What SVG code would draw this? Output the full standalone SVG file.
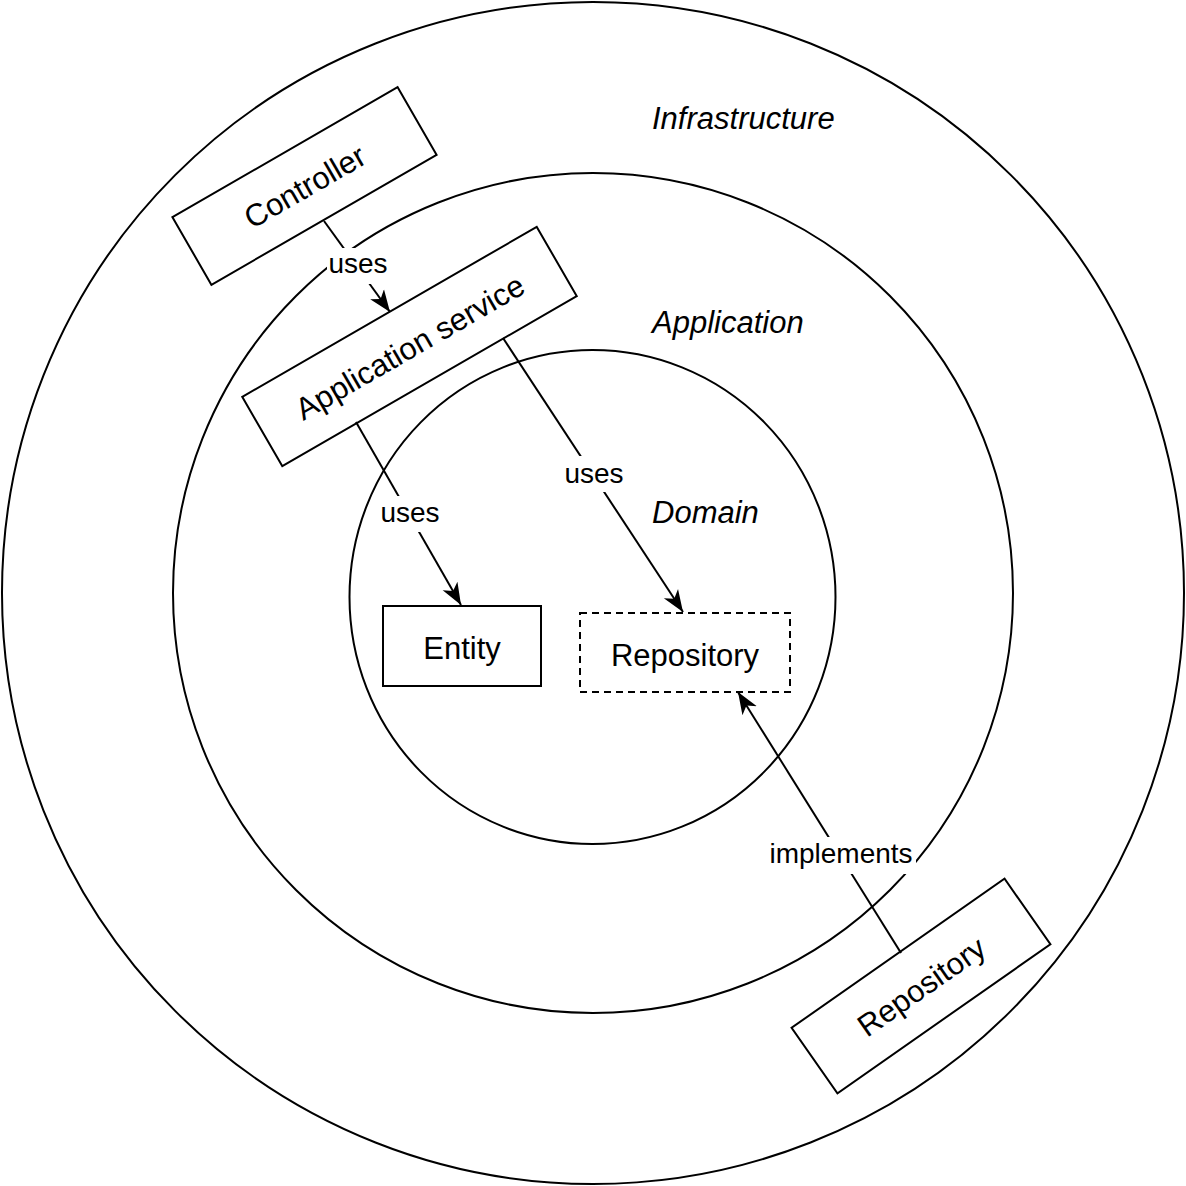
<svg xmlns="http://www.w3.org/2000/svg" width="1186" height="1186" viewBox="0 0 1186 1186">
<style>
.ring{fill:none;stroke:#000;stroke-width:2}
.box{fill:#fff;stroke:#000;stroke-width:2}
.dash{fill:#fff;stroke:#000;stroke-width:2;stroke-dasharray:7 5}
.nt{font-family:"Liberation Sans",Arial,sans-serif;font-size:31px;fill:#000;text-anchor:middle;dominant-baseline:central}
.lt{font-family:"Liberation Sans",Arial,sans-serif;font-size:31px;font-style:italic;fill:#000}
.el{font-family:"Liberation Sans",Arial,sans-serif;font-size:28px;fill:#000;text-anchor:middle}
.edge{fill:none;stroke:#000;stroke-width:2}
.bg{fill:#fff;stroke:none}
</style>
<defs>
<marker id="arr" markerUnits="userSpaceOnUse" markerWidth="24" markerHeight="20" viewBox="0 0 24 20" refX="22" refY="10" orient="auto">
<path d="M0,1.5 L22,10 L0,18.5 L6,10 Z" fill="#000"/>
</marker>
</defs>
<rect width="1186" height="1186" fill="#fff"/>
<g id="layers">
<circle id="infrastructure" class="ring" cx="593" cy="593" r="591"/>
<circle id="application" class="ring" cx="593" cy="593" r="420"/>
<ellipse id="domain" class="ring" cx="592.5" cy="597" rx="243" ry="247"/>
<text class="lt" x="652" y="129">Infrastructure</text>
<text class="lt" x="652" y="333">Application</text>
<text class="lt" x="652" y="523">Domain</text>
</g>
<g id="controller">
<rect class="box" x="174.5" y="147" width="260" height="78" transform="rotate(-30 304.5 186)"/>
<text class="nt" x="304.5" y="187" transform="rotate(-30 304.5 186)">Controller</text>
</g>
<g id="app-service">
<rect class="box" x="239.5" y="306.5" width="340" height="80" transform="rotate(-30 409.5 346.5)"/>
<text class="nt" x="409.5" y="347.5" transform="rotate(-30 409.5 346.5)">Application service</text>
</g>
<g id="entity">
<rect class="box" x="383" y="606" width="158" height="80"/>
<text class="nt" x="462" y="648">Entity</text>
</g>
<g id="domain-repository">
<rect class="dash" x="580" y="613" width="210" height="79"/>
<text class="nt" x="685" y="655">Repository</text>
</g>
<g id="infra-repository">
<rect class="box" x="791" y="946" width="260" height="80" transform="rotate(-35 921 986)"/>
<text class="nt" x="921" y="987" transform="rotate(-35 921 986)">Repository</text>
</g>
<g id="connectors">
<path class="edge" d="M324,221 L390,312" marker-end="url(#arr)"/>
<rect class="bg" x="327" y="248" width="62" height="36"/>
<text class="el" x="358" y="273">uses</text>
<path class="edge" d="M356,422 L461,605" marker-end="url(#arr)"/>
<rect class="bg" x="379" y="496" width="62" height="36"/>
<text class="el" x="410" y="522">uses</text>
<path class="edge" d="M503,338 L683,612" marker-end="url(#arr)"/>
<rect class="bg" x="563" y="456" width="62" height="36"/>
<text class="el" x="594" y="483">uses</text>
<path class="edge" d="M901,953 L738,692" marker-end="url(#arr)"/>
<rect class="bg" x="766" y="837" width="150" height="37"/>
<text class="el" x="841" y="863">implements</text>
</g>
</svg>
